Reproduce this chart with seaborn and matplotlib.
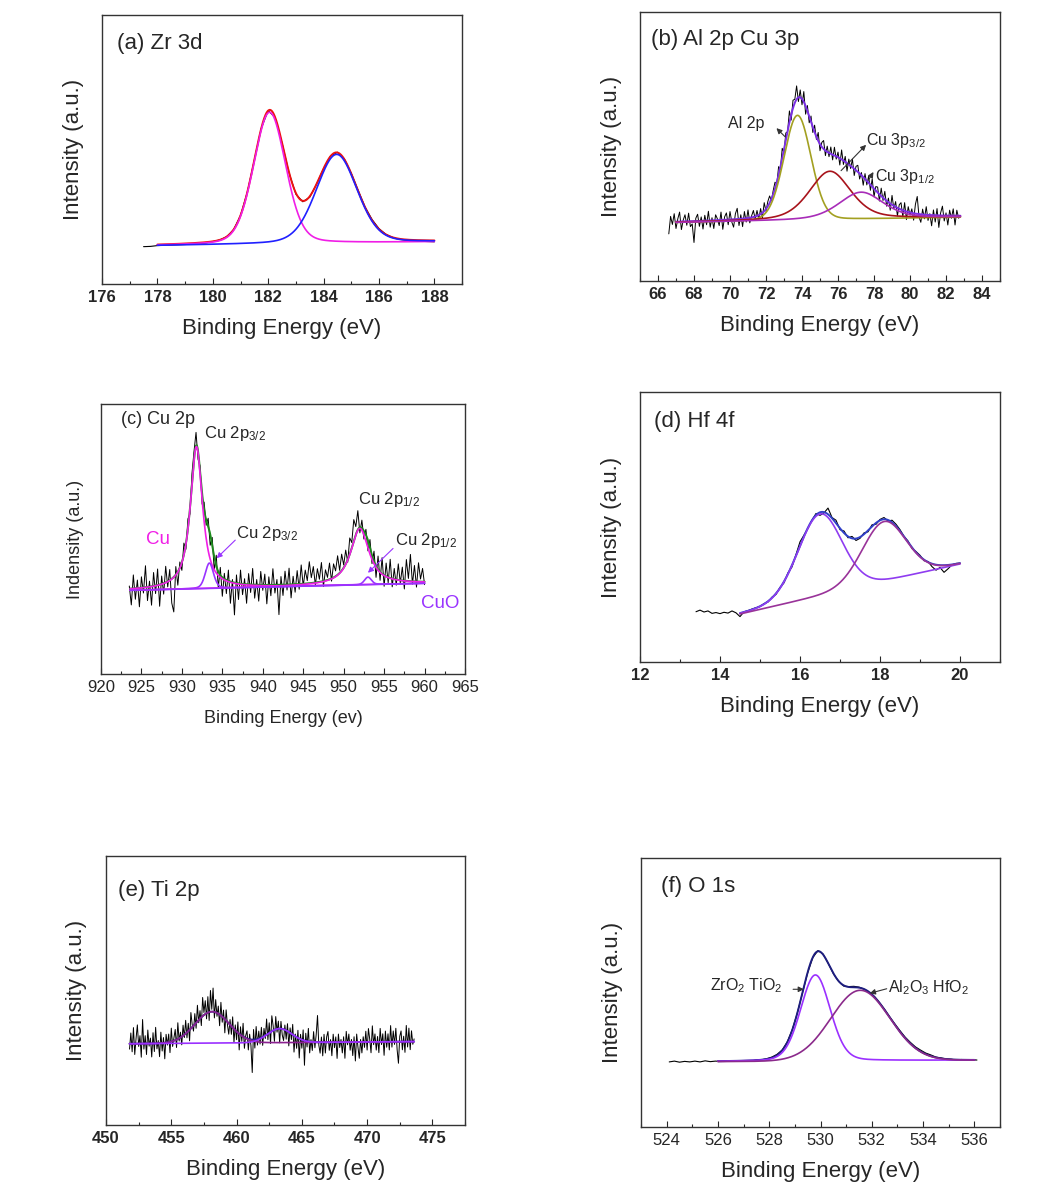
import numpy as np
import matplotlib
matplotlib.use("Agg")
import matplotlib.pyplot as plt
from matplotlib.ticker import MultipleLocator
import seaborn as sns

sns.set_style("white")
plt.rcParams['font.family'] = ['Liberation Sans', 'DejaVu Sans']
plt.rcParams['mathtext.fontset'] = 'custom'
plt.rcParams['mathtext.rm'] = 'Liberation Sans'
plt.rcParams['mathtext.default'] = 'regular'

# ---------------- (a) Zr 3d ----------------
a_raw_start, a_raw_step = 177.5, 0.25
a_raw = [13.9, 14.0, 14.3, 14.4, 14.5, 14.6, 14.7, 14.8, 15.0, 15.3, 15.8, 16.4, 17.6,
         20.2, 25.5, 34.3, 46.1, 57.9, 64.5, 61.9, 52.4, 41.4, 33.4, 30.6, 32.3, 37.2,
         43.0, 47.6, 49.0, 46.5, 41.2, 34.8, 28.6, 24.0, 20.6, 18.5, 17.3, 16.6, 16.3,
         16.0, 15.9, 15.8, 15.7]
a_fit_range = (178.0, 188.0)
a_bg = (14.3, 15.7)
a_center = [182.05, 184.47]
a_height = [49.0, 33.0]
a_hwhm = [0.68, 0.87]
a_eta = [0.2, 0.2]
a_colors = ['#f01ee6', '#2020ff']

# ---------------- (b) Al 2p / Cu 3p ----------------
b_raw_start, b_raw_step = 66.6, 0.1
b_raw = [17.5, 24.0, 21.0, 25.0, 19.5, 23.1, 25.6, 19.1, 22.6, 24.6,
         20.7, 25.2, 20.2, 21.2, 14.3, 23.3, 24.8, 20.3, 23.8, 19.3,
         24.4, 20.9, 25.9, 20.0, 23.5, 19.5, 24.6, 23.1, 20.6, 25.6,
         19.2, 23.8, 25.3, 20.9, 25.8, 21.9, 20.0, 25.0, 27.0, 20.6,
         24.6, 20.2, 25.8, 21.9, 26.4, 21.6, 24.2, 26.2, 23.0, 26.2,
         23.0, 26.9, 23.4, 29.1, 25.9, 29.5, 31.6, 29.8, 33.6, 36.7,
         36.0, 42.5, 41.5, 49.3, 47.6, 55.0, 55.5, 63.2, 59.8, 67.2,
         67.5, 72.5, 66.7, 71.0, 65.5, 70.4, 62.0, 65.2, 58.8, 61.3,
         55.2, 57.9, 52.6, 55.2, 48.4, 51.5, 52.2, 46.6, 50.1, 46.2,
         49.8, 45.0, 49.7, 45.3, 47.9, 43.1, 48.7, 43.3, 46.3, 40.8,
         45.3, 41.8, 45.3, 39.2, 42.6, 43.0, 37.9, 40.3, 35.6, 39.9,
         35.7, 38.9, 33.7, 38.0, 31.3, 35.1, 34.9, 29.7, 34.5, 29.9,
         33.3, 27.8, 30.8, 26.3, 31.8, 26.9, 29.5, 24.2, 28.3, 29.1,
         23.8, 29.1, 22.8, 27.6, 24.5, 26.8, 22.6, 28.5, 31.4, 23.8,
         21.8, 26.7, 23.1, 27.6, 22.5, 25.0, 20.5, 26.4, 21.9, 26.9,
         19.9, 25.3, 27.8, 22.3, 25.3, 20.8, 26.3, 23.3, 26.8, 20.8,
         26.3, 23.3, 24.3]
b_fit_range = (67.0, 82.8)
b_bg = (21.7, 23.7)
b_center = [73.75, 75.55, 77.28]
b_height = [39.0, 18.0, 10.0]
b_hwhm = [0.885, 1.35, 1.45]
b_eta = [0.1, 0.4, 0.4]
b_colors = ['#a3a021', '#a8141c', '#a82cb8']

# ---------------- (c) Cu 2p ----------------
c_raw_start, c_raw_step = 923.5, 0.25
c_raw = [32.6, 25.6, 36.7, 27.7, 34.8, 24.9, 36.0, 30.0, 40.1, 27.2, 34.4, 25.5, 37.6,
         29.8, 38.9, 25.1, 36.3, 29.6, 39.9, 32.3, 38.7, 26.3, 23.0, 39.8, 32.9, 41.5,
         38.4, 48.5, 46.2, 57.5, 59.3, 74.3, 82.4, 89.5, 79.5, 77.1, 62.9, 63.7, 55.1,
         57.7, 47.7, 50.6, 38.3, 44.0, 31.8, 39.5, 28.8, 37.3, 29.8, 38.5, 26.2, 35.0,
         21.9, 36.7, 27.6, 38.5, 29.4, 35.3, 26.2, 37.2, 30.2, 39.1, 28.1, 35.0, 27.0,
         38.0, 31.0, 37.0, 26.0, 36.0, 29.0, 39.0, 30.0, 35.0, 22.0, 36.1, 29.1, 38.1,
         31.1, 39.2, 28.2, 36.2, 30.3, 38.3, 31.4, 40.4, 32.5, 38.5, 34.6, 41.6, 35.7,
         39.8, 32.9, 39.0, 35.1, 41.3, 32.4, 38.6, 35.8, 41.1, 34.4, 40.8, 38.2, 43.8,
         38.4, 44.4, 40.4, 45.9, 41.4, 50.4, 48.7, 57.2, 54.6, 60.5, 52.3, 57.0, 50.0,
         53.6, 45.6, 49.8, 40.9, 45.5, 35.8, 43.7, 34.7, 43.1, 32.5, 41.1, 33.8, 42.5,
         32.3, 39.1, 32.9, 40.8, 33.7, 39.6, 31.5, 42.4, 35.4, 44.3, 33.3, 40.2, 32.2,
         41.2, 35.2, 39.1, 33.1]
c_fit_range = (923.6, 960.0)
c_bg = (31.0, 33.6)
c_center = [931.8, 933.4, 952.0, 953.0]
c_height = [52.7, 9.4, 20.9, 2.8]
c_hwhm = [0.9, 0.6, 1.35, 0.5]
c_eta = [0.9, 0.3, 0.9, 0.3]
c_colors = ['#f01ee6', '#9933ff', '#f01ee6', '#9933ff']

# ---------------- (d) Hf 4f ----------------
d_raw_start, d_raw_step = 13.4, 0.1
d_raw = [18.6, 19.2, 18.5, 18.9, 18.0, 18.3, 17.9, 18.4, 18.1, 18.9, 18.2, 16.8, 18.6,
         19.0, 19.6, 20.1, 20.5, 21.6, 22.2, 24.0, 25.0, 27.6, 29.3, 33.0, 35.2, 39.8,
         44.5, 47.0, 49.5, 52.5, 55.0, 54.3, 55.2, 57.0, 53.5, 52.5, 49.0, 48.5, 46.0,
         46.5, 45.0, 45.8, 47.8, 48.2, 50.8, 51.0, 52.8, 53.5, 52.2, 52.5, 51.0, 49.0,
         46.5, 44.8, 42.0, 40.9, 39.5, 37.5, 37.2, 35.3, 34.0, 35.0, 33.2, 34.5, 36.0,
         36.5, 36.6]
d_fit_range = (14.5, 20.0)
d_bg = (17.7, 36.2)
d_center = [16.5, 18.1]
d_height = [30.4, 22.2]
d_hwhm = [0.65, 0.65]
d_eta = [0.1, 0.1]
d_colors = ['#8f3cf0', '#993399']

# ---------------- (e) Ti 2p ----------------
e_raw_start, e_raw_step = 451.8, 0.1
e_raw = [28.2, 34.2, 27.2, 36.2, 26.2, 32.2, 37.2, 29.2, 33.2, 25.2,
         39.2, 28.2, 33.2, 26.2, 35.3, 29.3, 32.3, 25.3, 34.3, 27.3,
         36.3, 28.3, 31.4, 25.4, 34.5, 27.5, 32.5, 24.6, 33.7, 29.7,
         33.8, 26.9, 36.0, 29.2, 32.3, 35.5, 28.8, 38.0, 31.2, 34.5,
         29.8, 37.1, 32.5, 38.9, 32.4, 37.8, 31.3, 41.8, 37.4, 34.9,
         41.4, 35.95, 44.5, 38.0, 42.5, 36.95, 47.4, 41.8, 46.2, 39.45,
         47.7, 38.85, 50.0, 43.0, 50.9, 39.8, 46.6, 40.4, 44.2, 36.9,
         45.6, 38.2, 42.7, 34.25, 42.8, 37.3, 33.75, 39.2, 33.7, 40.2,
         30.7, 37.2, 31.7, 38.3, 27.9, 36.5, 31.1, 37.8, 28.5, 33.25,
         35.0, 27.9, 33.75, 29.6, 19.5, 35.5, 28.6, 36.6, 29.7, 34.9,
         30.1, 36.3, 29.6, 35.9, 32.15, 39.4, 31.7, 38.0, 30.3, 40.6,
         36.9, 31.1, 40.3, 34.5, 38.6, 30.55, 38.5, 33.45, 31.4, 37.15,
         31.9, 37.65, 29.4, 36.1, 31.75, 37.4, 27.1, 33.8, 28.5, 35.2,
         24.9, 33.7, 28.55, 35.35, 22.2, 34.1, 29.0, 35.9, 26.8, 31.75,
         27.7, 34.7, 28.7, 33.7, 40.7, 29.7, 26.7, 32.7, 25.7, 33.7,
         26.75, 32.75, 34.75, 27.75, 31.75, 25.75, 33.75, 28.75, 32.75, 24.75,
         33.8, 28.8, 31.8, 26.8, 32.8, 24.8, 34.8, 29.8, 33.8, 27.8,
         31.8, 25.8, 32.8, 23.8, 33.8, 28.8, 24.8, 31.8, 26.8, 32.8,
         28.85, 34.85, 27.85, 35.85, 31.85, 26.85, 36.85, 29.85, 33.85, 27.85,
         32.9, 26.9, 35.9, 29.9, 33.9, 25.9, 34.9, 28.9, 33.9, 27.9,
         36.95, 28.95, 34.95, 29.95, 35.95, 27.95, 22.95, 32.95, 34.95, 27.95,
         33.0, 27.0, 37.0, 29.0, 36.0, 28.0, 35.0, 30.0, 32.0]
e_fit_range = (451.8, 473.6)
e_bg = (30.2, 31.0)
e_center = [458.12, 463.3]
e_height = [11.7, 5.2]
e_hwhm = [1.55, 1.1]
e_eta = [0.0, 0.0]
e_colors = ['#8b2290', '#9b30ff']

# ---------------- (f) O 1s ----------------
f_raw_start, f_raw_step = 524.1, 0.2
f_raw = [24.2, 24.5, 24.1, 24.4, 24.2, 24.5, 24.2, 24.6, 24.3, 24.5, 24.4, 24.6, 24.4,
         24.7, 24.5, 24.7, 24.6, 24.9, 25.0, 25.4, 26.0, 27.0, 28.6, 31.6, 36.3, 42.6,
         50.0, 57.4, 63.0, 65.6, 64.3, 60.8, 57.0, 54.2, 52.4, 52.2, 52.3, 52.0, 51.2,
         50.0, 48.5, 46.2, 43.7, 40.9, 38.3, 35.8, 33.4, 31.5, 29.8, 28.6, 27.5, 26.8,
         26.0, 25.7, 25.3, 25.2, 24.9, 25.1, 24.8, 25.0, 24.9]
f_fit_range = (526.0, 536.0)
f_bg = (24.32, 24.87)
f_center = [529.8, 531.55]
f_height = [32.0, 26.2]
f_hwhm = [0.68, 1.35]
f_eta = [0.15, 0.0]
f_colors = ['#9b30ff', '#8b2a8b']


def pvoigt(x, c, h, w, eta):
    r2 = ((x - c) / w) ** 2
    return h * ((1 - eta) * np.exp(-np.log(2) * r2) + eta / (1 + r2))


def draw(ax, raw_start, raw_step, raw, fit_range, bg, centers, heights, hwhm, eta,
         colors, env_color, raw_lw=0.8):
    rx = raw_start + raw_step * np.arange(len(raw))
    sns.lineplot(x=rx, y=raw, ax=ax, color='black', linewidth=raw_lw, estimator=None)
    x = np.linspace(fit_range[0], fit_range[1], 600)
    base = np.interp(x, fit_range, bg)
    comps = [pvoigt(x, c, h, w, e) for c, h, w, e in zip(centers, heights, hwhm, eta)]
    sns.lineplot(x=x, y=base + np.sum(comps, axis=0), ax=ax, color=env_color,
                 linewidth=1.4, estimator=None)
    for comp, col in zip(comps, colors):
        sns.lineplot(x=x, y=base + comp, ax=ax, color=col, linewidth=1.2, estimator=None)


def style(ax, xlim, major, minor, title, title_xy, bold, xlabel, ylabel,
          fs=16, xpad=9.5, ypad=13):
    ax.set_xlim(*xlim)
    ax.set_ylim(0, 100)
    ax.set_yticks([])
    ax.xaxis.set_major_locator(MultipleLocator(major))
    ax.xaxis.set_minor_locator(MultipleLocator(minor))
    ax.tick_params(axis='x', which='both', direction='in', bottom=True, top=False,
                   labelsize=12, pad=4)
    ax.tick_params(axis='x', which='major', length=4, width=0.8)
    ax.tick_params(axis='x', which='minor', length=2.5, width=0.8)
    for lab in ax.get_xticklabels():
        lab.set_fontweight('bold' if bold else 'normal')
    for sp in ax.spines.values():
        sp.set_visible(True)
        sp.set_color('#333333')
        sp.set_linewidth(1.0)
    ax.set_xlabel(xlabel, fontsize=fs, labelpad=xpad)
    ax.set_ylabel(ylabel, fontsize=fs, labelpad=ypad)
    ax.text(title_xy[0], title_xy[1], title, transform=ax.transAxes, fontsize=fs,
            ha='left', va='top')


def arrow(ax, head, tail, color):
    ax.annotate('', xy=head, xytext=tail,
                arrowprops=dict(arrowstyle='-|>', color=color, lw=0.8,
                                mutation_scale=8, shrinkA=0, shrinkB=0))


fig = plt.figure(figsize=(10.54, 11.94), dpi=100)
fig.patch.set_facecolor('white')

xl = 'Binding Energy (eV)'
yl = 'Intensity (a.u.)'

# (a)
ax = fig.add_axes([0.0968, 0.7621, 0.3416, 0.2253])
draw(ax, a_raw_start, a_raw_step, a_raw, a_fit_range, a_bg, a_center, a_height,
     a_hwhm, a_eta, a_colors, '#ee1111')
style(ax, (176, 189), 2, 1, '(a) Zr 3d', (0.042, 0.935), True, xl, yl)

# (b)
ax = fig.add_axes([0.6072, 0.7647, 0.3416, 0.2253])
draw(ax, b_raw_start, b_raw_step, b_raw, b_fit_range, b_bg, b_center, b_height,
     b_hwhm, b_eta, b_colors, '#7b2fe6', raw_lw=0.7)
style(ax, (65, 85), 2, 1, '(b) Al 2p Cu 3p', (0.03, 0.936), True, xl, yl)
ax.text(69.87, 56.8, 'Al 2p', fontsize=11.5)
ax.text(77.57, 50.6, r'Cu 3p$_{3/2}$', fontsize=11.5)
ax.text(78.04, 37.2, r'Cu 3p$_{1/2}$', fontsize=11.5)
arrow(ax, (72.58, 56.8), (73.06, 53.6), '#333333')
arrow(ax, (77.56, 50.6), (76.17, 41.0), '#333333')
arrow(ax, (77.97, 40.5), (77.69, 37.5), '#333333')

# (c)
ax = fig.add_axes([0.0958, 0.4355, 0.3454, 0.2261])
draw(ax, c_raw_start, c_raw_step, c_raw, c_fit_range, c_bg, c_center, c_height,
     c_hwhm, c_eta, c_colors, '#1b8a1b', raw_lw=0.7)
style(ax, (920, 965), 5, 2.5, '(c) Cu 2p', (0.055, 0.975), False,
      'Binding Energy (ev)', 'Indensity (a.u.)', fs=13, xpad=11, ypad=12.5)
ax.text(932.7, 87.3, r'Cu 2p$_{3/2}$', fontsize=12)
ax.text(925.6, 48.1, 'Cu', fontsize=13.5, color='#f01ee6')
ax.text(936.7, 50.5, r'Cu 2p$_{3/2}$', fontsize=12)
ax.text(951.8, 63.0, r'Cu 2p$_{1/2}$', fontsize=12)
ax.text(956.3, 47.8, r'Cu 2p$_{1/2}$', fontsize=12)
ax.text(959.6, 24.3, 'CuO', fontsize=13.5, color='#9933ff')
arrow(ax, (934.3, 42.9), (936.6, 49.6), '#9933ff')
arrow(ax, (953.0, 37.5), (956.1, 46.5), '#9933ff')

# (d)
ax = fig.add_axes([0.6072, 0.4456, 0.3416, 0.2261])
draw(ax, d_raw_start, d_raw_step, d_raw, d_fit_range, d_bg, d_center, d_height,
     d_hwhm, d_eta, d_colors, '#2f3fc8')
style(ax, (12, 21), 2, 1, '(d) Hf 4f', (0.039, 0.931), True, xl, yl)

# (e)
ax = fig.add_axes([0.1006, 0.0578, 0.3406, 0.2253])
draw(ax, e_raw_start, e_raw_step, e_raw, e_fit_range, e_bg, e_center, e_height,
     e_hwhm, e_eta, e_colors, '#25258f', raw_lw=0.7)
style(ax, (450, 477.5), 5, 2.5, '(e) Ti 2p', (0.034, 0.911), True, xl, yl, ypad=14)

# (f)
ax = fig.add_axes([0.6082, 0.0561, 0.3406, 0.2253])
draw(ax, f_raw_start, f_raw_step, f_raw, f_fit_range, f_bg, f_center, f_height,
     f_hwhm, f_eta, f_colors, '#1e1e80')
style(ax, (523, 537), 2, 1, '(f) O 1s', (0.055, 0.933), False, xl, yl)
ax.text(525.68, 50.9, r'ZrO$_2$ TiO$_2$', fontsize=11.5)
ax.text(532.64, 49.9, r'Al$_2$O$_3$ HfO$_2$', fontsize=11.5)
arrow(ax, (529.35, 51.2), (528.93, 51.2), '#333333')
arrow(ax, (531.92, 49.7), (532.58, 51.4), '#333333')

fig.savefig('out.png', dpi=100)
